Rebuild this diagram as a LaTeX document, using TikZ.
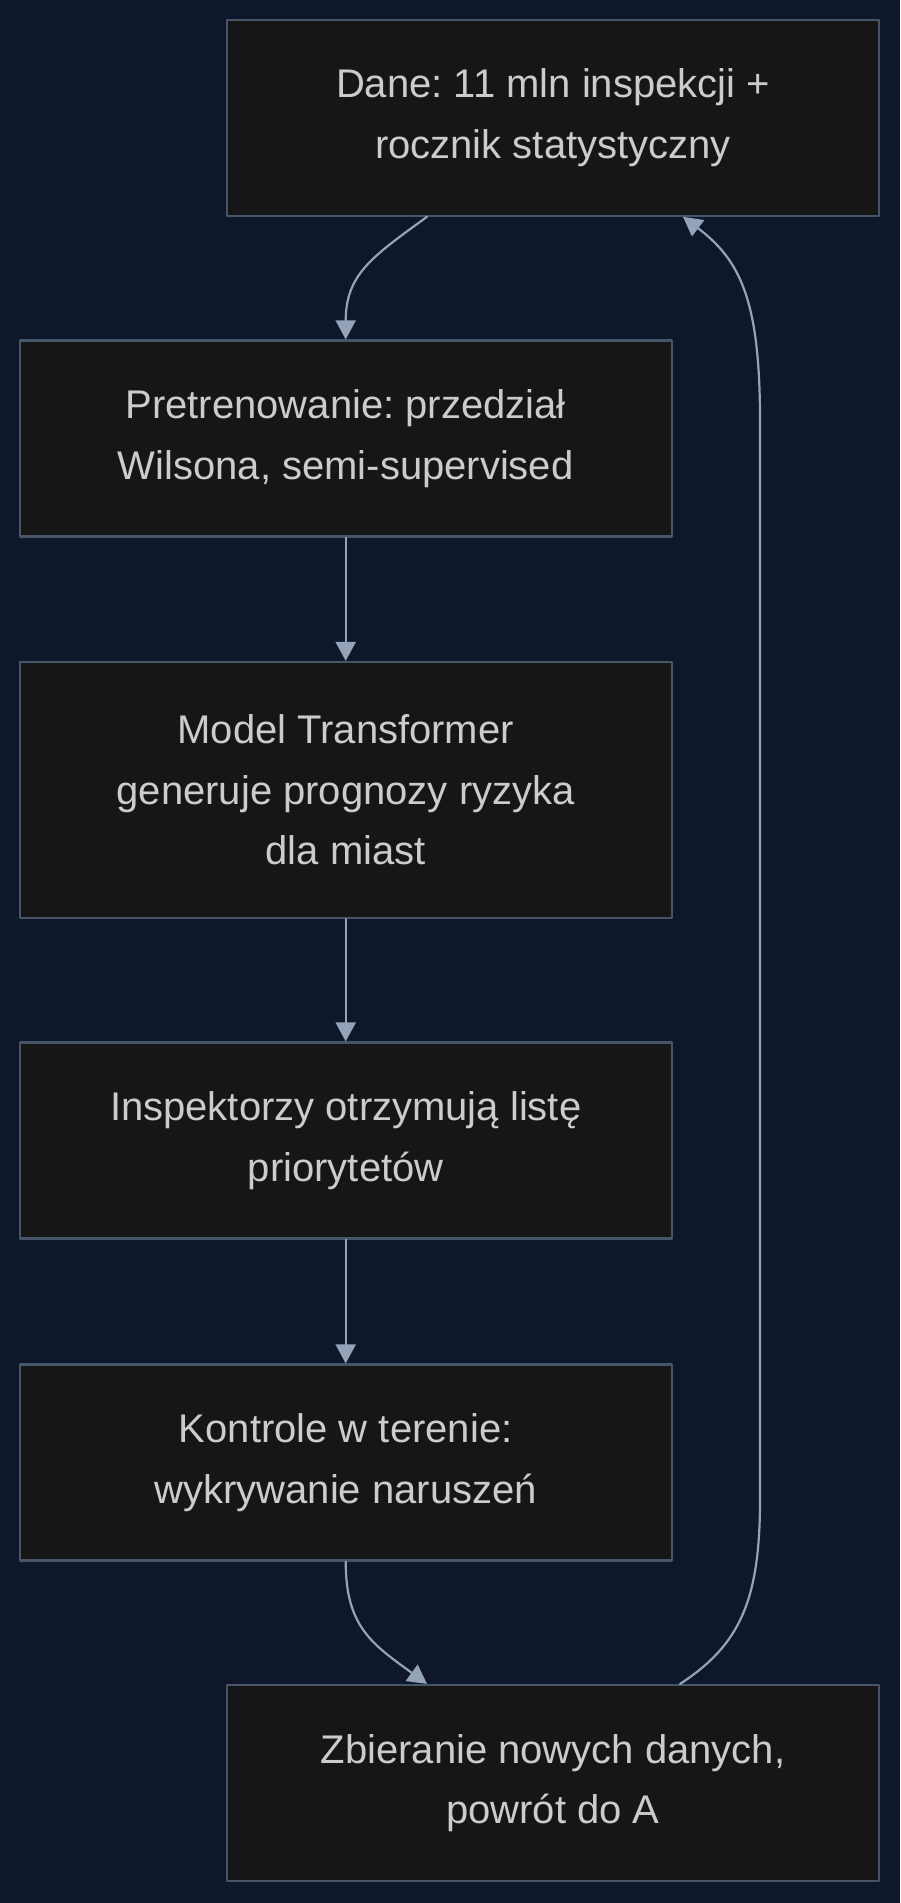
\documentclass[tikz,border=0pt]{standalone}
\usepackage{fontspec}
\setmainfont{Liberation Sans}
\usetikzlibrary{arrows.meta}
\definecolor{bgnavy}{HTML}{0F172A}
\definecolor{boxfill}{HTML}{161616}
\definecolor{boxline}{HTML}{475569}
\definecolor{edgecol}{HTML}{94A3B8}
\definecolor{txtcol}{HTML}{CCCCCC}
\frenchspacing
\begin{document}
\begin{tikzpicture}[x=1pt, y=-1pt, line join=round, line cap=round,
  font=\fontsize{40}{60.6}\selectfont,
  stage/.style={draw=boxline, fill=boxfill, line width=2.2pt, text=txtcol, align=center, inner sep=0pt, minimum width=652pt, minimum height=196pt},
  tall/.style={minimum height=256pt},
  flow/.style={draw=edgecol, line width=2.2pt, -{Triangle[length=19pt,width=20pt]}}]
\fill[bgnavy] (0,0) rectangle (900,1903);
\useasboundingbox (0,0) rectangle (900,1903);
\node[stage] (A) at (553,117.7) {Dane: 11 mln inspekcji +\\rocznik statystyczny};
\node[stage] (B) at (345.7,438.5) {Pretrenowanie: przedział\\Wilsona, semi-supervised};
\node[stage, tall] (C) at (345.7,790) {Model Transformer\\generuje prognozy ryzyka\\dla miast};
\node[stage] (D) at (345.7,1140.5) {Inspektorzy otrzymują listę\\priorytetów};
\node[stage] (E) at (345.7,1462.5) {Kontrole w terenie:\\wykrywanie naruszeń};
\node[stage] (F) at (553,1783) {Zbieranie nowych danych,\\powrót do A};
\draw[flow] ([xshift=-126pt]A.south) .. controls +(-55,40) and +(0,-65) .. (B.north);
\draw[flow] (B) -- (C);
\draw[flow] (C) -- (D);
\draw[flow] (D) -- (E);
\draw[flow] (E.south) .. controls +(0,65) and +(-55,-40) .. ([xshift=-126pt]F.north);
\coordinate (loopbot) at (760,1500);
\coordinate (looptop) at (760,420);
\draw[flow] ([xshift=127pt]F.north) .. controls (740,1645) and (760,1600) .. (loopbot) -- (looptop) .. controls (760,300) and (740,260) .. ([xshift=130pt]A.south);
\end{tikzpicture}
\end{document}
